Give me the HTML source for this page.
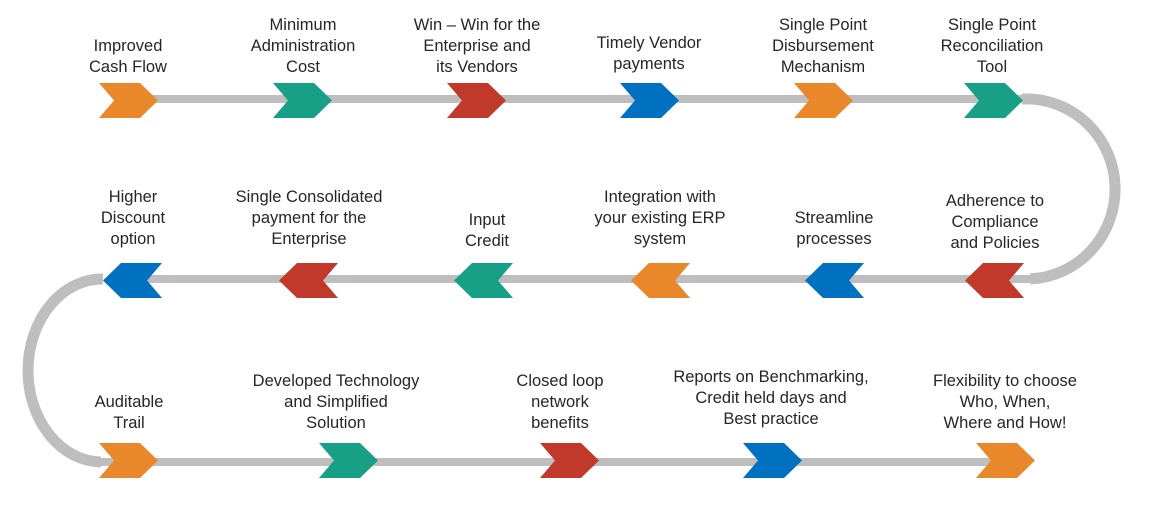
<!DOCTYPE html>
<html><head><meta charset="utf-8"><style>
body{margin:0;width:1165px;height:507px;background:#fff;position:relative;overflow:hidden;font-family:"Liberation Sans",sans-serif;}
.t{position:absolute;width:240px;margin-left:-120px;text-align:center;font-size:16.5px;line-height:21px;color:#262626;}
svg{position:absolute;left:0;top:0}
</style></head><body>
<svg width="1165" height="507">
<defs>
<polygon id="r" points="0,0 41,0 59,17.5 41,35 0,35 15,17.5"/>
<polygon id="l" points="59,0 18,0 0,17.5 18,35 59,35 44,17.5"/>
</defs>
<g fill="none" stroke="#bebebe">
<line x1="120" y1="99" x2="1025" y2="99" stroke-width="8"/>
<line x1="130" y1="279" x2="1030" y2="279" stroke-width="8"/>
<line x1="100" y1="462" x2="1000" y2="462" stroke-width="8"/>
<path d="M1022 99 A89 90 0 0 1 1030 279" stroke-width="11"/>
<path d="M103 279 A74 91.5 0 0 0 101 462" stroke-width="11"/>
</g>
<use href="#r" x="99" y="83" fill="#e8882a"/>
<use href="#r" x="273" y="83" fill="#17a086"/>
<use href="#r" x="447" y="83" fill="#c0392b"/>
<use href="#r" x="620" y="83" fill="#0070c0"/>
<use href="#r" x="794" y="83" fill="#e8882a"/>
<use href="#r" x="964" y="83" fill="#17a086"/>
<use href="#l" x="103" y="263" fill="#0070c0"/>
<use href="#l" x="279" y="263" fill="#c0392b"/>
<use href="#l" x="454" y="263" fill="#17a086"/>
<use href="#l" x="631" y="263" fill="#e8882a"/>
<use href="#l" x="805" y="263" fill="#0070c0"/>
<use href="#l" x="965" y="263" fill="#c0392b"/>
<use href="#r" x="99" y="443" fill="#e8882a"/>
<use href="#r" x="319" y="443" fill="#17a086"/>
<use href="#r" x="540" y="443" fill="#c0392b"/>
<use href="#r" x="743" y="443" fill="#0070c0"/>
<use href="#r" x="976" y="443" fill="#e8882a"/>
</svg>
<div class="t" style="left:128px;top:36px">Improved<br>Cash Flow</div>
<div class="t" style="left:303px;top:15px">Minimum<br>Administration<br>Cost</div>
<div class="t" style="left:477px;top:15px">Win – Win for the<br>Enterprise and<br>its Vendors</div>
<div class="t" style="left:649px;top:33px">Timely Vendor<br>payments</div>
<div class="t" style="left:823px;top:15px">Single Point<br>Disbursement<br>Mechanism</div>
<div class="t" style="left:992px;top:15px">Single Point<br>Reconciliation<br>Tool</div>
<div class="t" style="left:133px;top:187px">Higher<br>Discount<br>option</div>
<div class="t" style="left:309px;top:187px">Single Consolidated<br>payment for the<br>Enterprise</div>
<div class="t" style="left:487px;top:210px">Input<br>Credit</div>
<div class="t" style="left:660px;top:187px">Integration with<br>your existing ERP<br>system</div>
<div class="t" style="left:834px;top:208px">Streamline<br>processes</div>
<div class="t" style="left:995px;top:191px">Adherence to<br>Compliance<br>and Policies</div>
<div class="t" style="left:129px;top:392px">Auditable<br>Trail</div>
<div class="t" style="left:336px;top:371px">Developed Technology<br>and Simplified<br>Solution</div>
<div class="t" style="left:560px;top:371px">Closed loop<br>network<br>benefits</div>
<div class="t" style="left:771px;top:367px">Reports on Benchmarking,<br>Credit held days and<br>Best practice</div>
<div class="t" style="left:1005px;top:371px">Flexibility to choose<br>Who, When,<br>Where and How!</div>
</body></html>
